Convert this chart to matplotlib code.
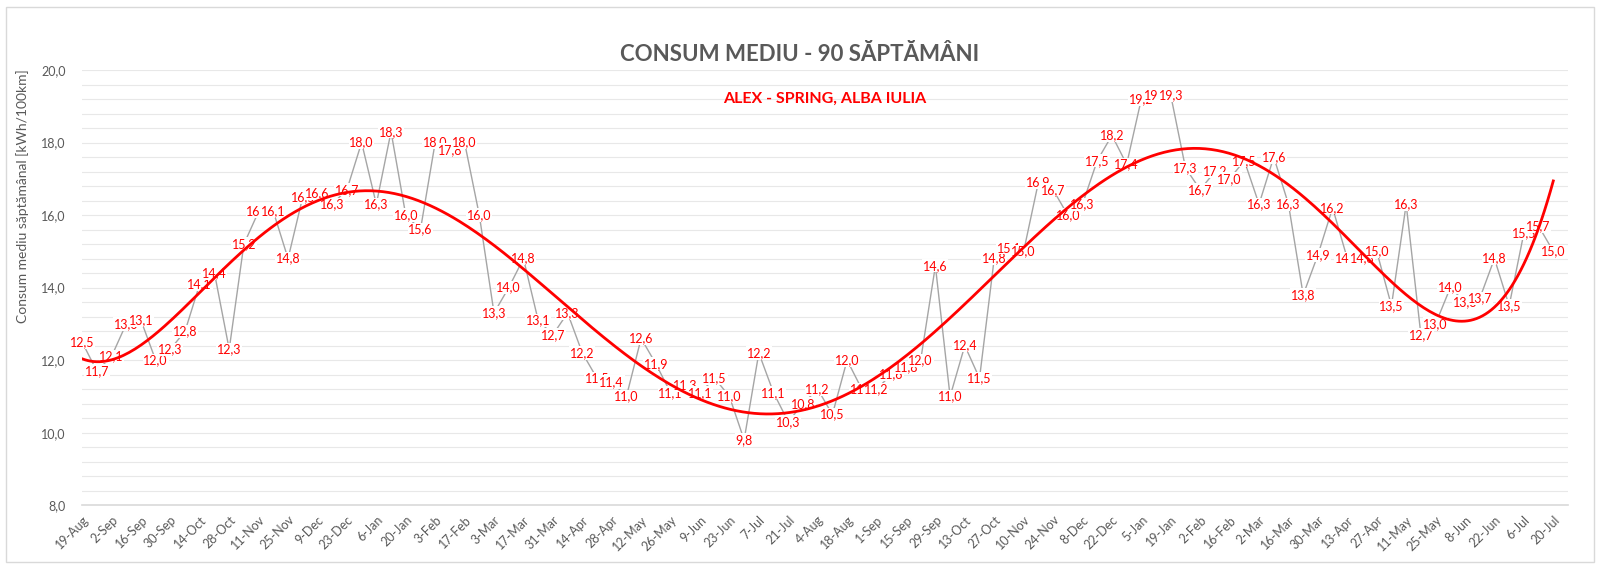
import numpy as np
import matplotlib
matplotlib.use("Agg")
import matplotlib.pyplot as plt
from matplotlib.patches import Rectangle

plt.rcParams['font.family'] = ['Lato', 'DejaVu Sans']

# weekly average consumption, kWh/100km
consum = [12.5, 11.7, 12.1, 13.0, 13.1, 12.0, 12.3, 12.8, 14.1, 14.4,
          12.3, 15.2, 16.1, 16.1, 14.8, 16.5, 16.6, 16.3, 16.7, 18.0,
          16.3, 18.3, 16.0, 15.6, 18.0, 17.8, 18.0, 16.0, 13.3, 14.0,
          14.8, 13.1, 12.7, 13.3, 12.2, 11.5, 11.4, 11.0, 12.6, 11.9,
          11.1, 11.3, 11.1, 11.5, 11.0, 9.8, 12.2, 11.1, 10.3, 10.8,
          11.2, 10.5, 12.0, 11.2, 11.2, 11.6, 11.8, 12.0, 14.6, 11.0,
          12.4, 11.5, 14.8, 15.1, 15.0, 16.9, 16.7, 16.0, 16.3, 17.5,
          18.2, 17.4, 19.2, 19.3, 19.3, 17.3, 16.7, 17.2, 17.0, 17.5,
          16.3, 17.6, 16.3, 13.8, 14.9, 16.2, 14.8, 14.8, 15.0, 13.5,
          16.3, 12.7, 13.0, 14.0, 13.6, 13.7, 14.8, 13.5, 15.5, 15.7, 15.0]

# one tick label every two weeks
date_labels = ["19-Aug", "2-Sep", "16-Sep", "30-Sep", "14-Oct", "28-Oct", "11-Nov", "25-Nov",
               "9-Dec", "23-Dec", "6-Jan", "20-Jan", "3-Feb", "17-Feb", "3-Mar", "17-Mar",
               "31-Mar", "14-Apr", "28-Apr", "12-May", "26-May", "9-Jun", "23-Jun", "7-Jul",
               "21-Jul", "4-Aug", "18-Aug", "1-Sep", "15-Sep", "29-Sep", "13-Oct", "27-Oct",
               "10-Nov", "24-Nov", "8-Dec", "22-Dec", "5-Jan", "19-Jan", "2-Feb", "16-Feb",
               "2-Mar", "16-Mar", "30-Mar", "13-Apr", "27-Apr", "11-May", "25-May", "8-Jun",
               "22-Jun", "6-Jul", "20-Jul"]

weeks = np.arange(len(consum))

fig = plt.figure(figsize=(16, 5.67), dpi=100)
ax = fig.add_axes([0.0513, 0.109, 0.9287, 0.7675])

# chart border
fig.patches.append(Rectangle((0.004, 0.009), 0.992, 0.979, transform=fig.transFigure,
                             fill=False, edgecolor='#D9D9D9', linewidth=1))

ax.plot(weeks, consum, color='#A5A5A5', linewidth=1, zorder=2)

for x, y in zip(weeks, consum):
    ax.text(x, y, "{:.1f}".format(y).replace('.', ','), color='#FF0000', fontsize=9,
            ha='center', va='center', zorder=3,
            bbox=dict(boxstyle='square,pad=0.05', facecolor='white', edgecolor='none'))

# polynomial trendline (order 6)
trend = np.polynomial.Polynomial.fit(weeks, consum, 6)
xs = np.linspace(weeks[0], weeks[-1], 500)
ax.plot(xs, trend(xs), color='#FF0000', linewidth=2, zorder=4)

ax.set_xlim(0, 101)
ax.set_ylim(8, 20)
ax.set_yticks(np.arange(8, 20.01, 2))
ax.set_yticklabels(["{:.1f}".format(v).replace('.', ',') for v in np.arange(8, 20.01, 2)])
ax.set_yticks(np.arange(8, 20.01, 0.4), minor=True)
ax.grid(True, which='both', axis='y', color='#E8E8E8', linewidth=0.8, zorder=0)
ax.set_axisbelow(True)

ax.set_xticks(weeks[::2])
ax.set_xticklabels(date_labels, rotation=45, ha='right', rotation_mode='anchor')

ax.tick_params(axis='both', which='both', length=0, colors='#595959', labelsize=9)
ax.tick_params(axis='x', pad=6)
ax.tick_params(axis='y', pad=12)
for side in ['top', 'right', 'left']:
    ax.spines[side].set_visible(False)
ax.spines['bottom'].set_color('#D9D9D9')
ax.spines['bottom'].set_linewidth(1.2)

ax.set_ylabel("Consum mediu săptămânal [kWh/100km]", color='#595959', fontsize=10)
ax.yaxis.set_label_coords(-0.036, 0.71)

fig.text(0.5, 0.903, "CONSUM MEDIU - 90 SĂPTĂMÂNI", ha='center', va='center',
         fontsize=16, fontweight='bold', color='#595959')
ax.text(0.5, 0.934, "ALEX - SPRING, ALBA IULIA", transform=ax.transAxes, ha='center',
        va='center', fontsize=11.5, fontweight='bold', color='#FF0000', zorder=5)

fig.savefig("out.png", dpi=100)
